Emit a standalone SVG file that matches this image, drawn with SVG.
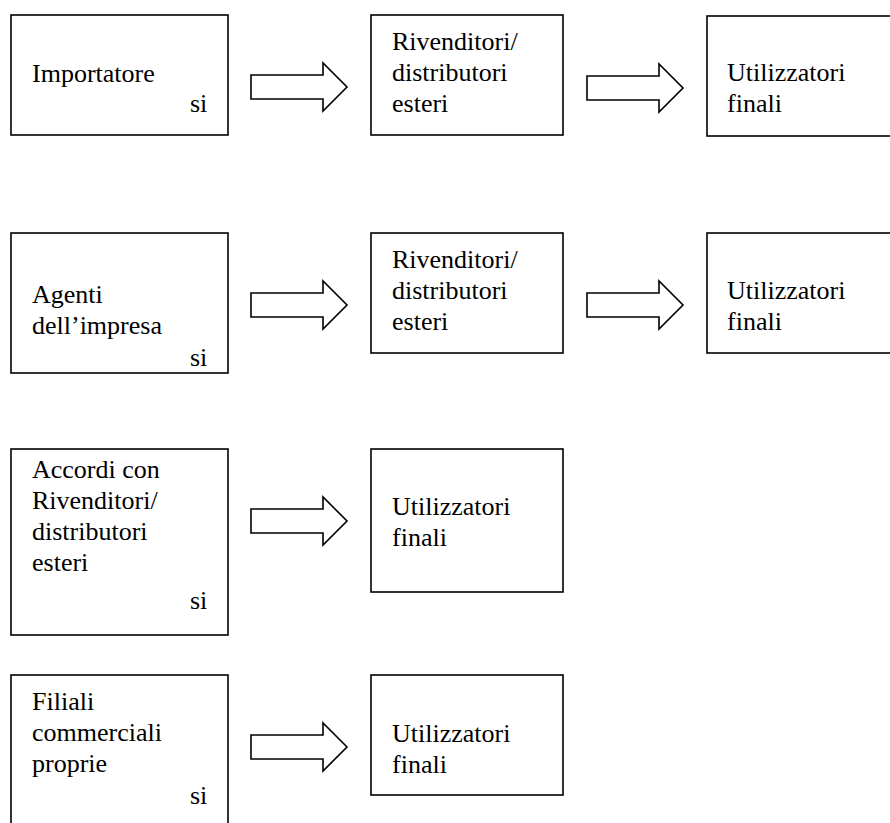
<svg xmlns="http://www.w3.org/2000/svg" width="890" height="823" viewBox="0 0 890 823">
<defs>
<path id="arrow" d="M0,-12 H72 V-24 L96,0 L72,24 V12 H0 Z" fill="#fff" stroke="#000" stroke-width="1.6"/>
</defs>
<rect width="890" height="823" fill="#fff"/>
<g id="connectors">
<use href="#arrow" x="251" y="87"/>
<use href="#arrow" x="587" y="88"/>
<use href="#arrow" x="251" y="305"/>
<use href="#arrow" x="587" y="305"/>
<use href="#arrow" x="251" y="521"/>
<use href="#arrow" x="251" y="747"/>
</g>
<g fill="#fff" stroke="#000" stroke-width="1.6">
<rect id="box-importatore" x="11" y="15" width="217" height="120"/>
<rect id="box-rivenditori1" x="371" y="15" width="192" height="120"/>
<rect id="box-utilizzatori1" x="707" y="16" width="200" height="120"/>
<rect id="box-agenti" x="11" y="233" width="217" height="140"/>
<rect id="box-rivenditori2" x="371" y="233" width="192" height="120"/>
<rect id="box-utilizzatori2" x="707" y="233" width="200" height="120"/>
<rect id="box-accordi" x="11" y="449" width="217" height="186"/>
<rect id="box-utilizzatori3" x="371" y="449" width="192" height="143"/>
<rect id="box-filiali" x="11" y="675" width="217" height="160"/>
<rect id="box-utilizzatori4" x="371" y="675" width="192" height="120"/>
</g>
<g id="importatore">
<text x="32" y="82" font-family="Liberation Serif, serif" font-size="26">Importatore</text>
<text x="190" y="112" font-family="Liberation Serif, serif" font-size="26">si</text>
</g>
<g id="rivenditori1">
<text x="392" y="50" font-family="Liberation Serif, serif" font-size="26">Rivenditori/</text>
<text x="392" y="81" font-family="Liberation Serif, serif" font-size="26">distributori</text>
<text x="392" y="112" font-family="Liberation Serif, serif" font-size="26">esteri</text>
</g>
<g id="utilizzatori1">
<text x="727" y="81" font-family="Liberation Serif, serif" font-size="26">Utilizzatori</text>
<text x="727" y="112" font-family="Liberation Serif, serif" font-size="26">finali</text>
</g>
<g id="agenti">
<text x="32" y="303" font-family="Liberation Serif, serif" font-size="26">Agenti</text>
<text x="32" y="334" font-family="Liberation Serif, serif" font-size="26">dell’impresa</text>
<text x="190" y="366" font-family="Liberation Serif, serif" font-size="26">si</text>
</g>
<g id="rivenditori2">
<text x="392" y="268" font-family="Liberation Serif, serif" font-size="26">Rivenditori/</text>
<text x="392" y="299" font-family="Liberation Serif, serif" font-size="26">distributori</text>
<text x="392" y="330" font-family="Liberation Serif, serif" font-size="26">esteri</text>
</g>
<g id="utilizzatori2">
<text x="727" y="299" font-family="Liberation Serif, serif" font-size="26">Utilizzatori</text>
<text x="727" y="330" font-family="Liberation Serif, serif" font-size="26">finali</text>
</g>
<g id="accordi">
<text x="32" y="478" font-family="Liberation Serif, serif" font-size="26">Accordi con</text>
<text x="32" y="509" font-family="Liberation Serif, serif" font-size="26">Rivenditori/</text>
<text x="32" y="540" font-family="Liberation Serif, serif" font-size="26">distributori</text>
<text x="32" y="571" font-family="Liberation Serif, serif" font-size="26">esteri</text>
<text x="190" y="609" font-family="Liberation Serif, serif" font-size="26">si</text>
</g>
<g id="utilizzatori3">
<text x="392" y="515" font-family="Liberation Serif, serif" font-size="26">Utilizzatori</text>
<text x="392" y="546" font-family="Liberation Serif, serif" font-size="26">finali</text>
</g>
<g id="filiali">
<text x="32" y="710" font-family="Liberation Serif, serif" font-size="26">Filiali</text>
<text x="32" y="741" font-family="Liberation Serif, serif" font-size="26">commerciali</text>
<text x="32" y="772" font-family="Liberation Serif, serif" font-size="26">proprie</text>
<text x="190" y="804" font-family="Liberation Serif, serif" font-size="26">si</text>
</g>
<g id="utilizzatori4">
<text x="392" y="742" font-family="Liberation Serif, serif" font-size="26">Utilizzatori</text>
<text x="392" y="773" font-family="Liberation Serif, serif" font-size="26">finali</text>
</g>
</svg>
